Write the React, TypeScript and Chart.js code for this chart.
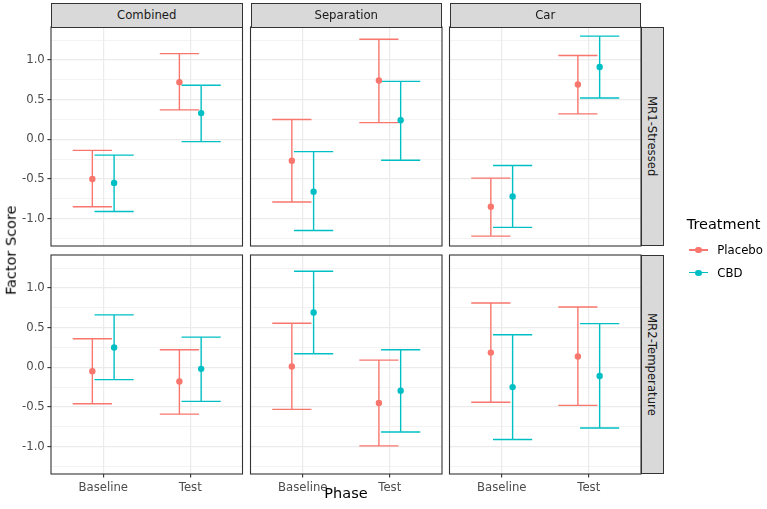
import React, { useEffect, useRef } from 'react';
import { Chart, registerables } from 'chart.js';

Chart.register(...registerables);

const phases = ['Baseline', 'Test'];
const studies = ['Combined', 'Separation', 'Car'];
const factors = ['MR1-Stressed', 'MR2-Temperature'];
const treatments = ['Placebo', 'CBD'];
const treatmentColors = ['#F8766D', '#00BFC4'];

// each row is a study (Combined, Separation, Car), each column a phase (Baseline, Test)
const mr1PlaceboMean = [[-0.5, 0.72], [-0.27, 0.74], [-0.85, 0.69]];
const mr1PlaceboLow = [[-0.85, 0.37], [-0.79, 0.21], [-1.22, 0.32]];
const mr1PlaceboHigh = [[-0.14, 1.08], [0.25, 1.26], [-0.49, 1.055]];
const mr1CbdMean = [[-0.55, 0.33], [-0.66, 0.24], [-0.72, 0.91]];
const mr1CbdLow = [[-0.91, -0.03], [-1.15, -0.265], [-1.11, 0.52]];
const mr1CbdHigh = [[-0.2, 0.68], [-0.155, 0.73], [-0.33, 1.3]];

const mr2PlaceboMean = [[-0.05, -0.18], [0.01, -0.45], [0.185, 0.135]];
const mr2PlaceboLow = [[-0.46, -0.59], [-0.53, -0.99], [-0.44, -0.48]];
const mr2PlaceboHigh = [[0.36, 0.22], [0.555, 0.09], [0.81, 0.76]];
const mr2CbdMean = [[0.25, -0.02], [0.69, -0.295], [-0.25, -0.11]];
const mr2CbdLow = [[-0.155, -0.43], [0.17, -0.815], [-0.91, -0.765]];
const mr2CbdHigh = [[0.66, 0.38], [1.21, 0.22], [0.41, 0.55]];

const yMajorTicks = [-1, -0.5, 0, 0.5, 1];
const yMinorTicks = [-1.25, -0.75, -0.25, 0.25, 0.75, 1.25];

const stats = [
  [
    [mr1PlaceboMean, mr1PlaceboLow, mr1PlaceboHigh],
    [mr1CbdMean, mr1CbdLow, mr1CbdHigh],
  ],
  [
    [mr2PlaceboMean, mr2PlaceboLow, mr2PlaceboHigh],
    [mr2CbdMean, mr2CbdLow, mr2CbdHigh],
  ],
];

const W = 767;
const H = 509;
const colLeft = [51, 250.5, 449.5];
const panelW = 191.5;
const rowTop = [27, 255];
const panelH = 219;
const dodge = [-0.125, 0.125];
const capHalf = 0.225;
const FONT = '"DejaVu Sans", sans-serif';

const panelBorder = {
  id: 'panelBorder',
  afterDatasetsDraw(chart: any) {
    const { left, top, right, bottom } = chart.chartArea;
    const ctx = chart.ctx;
    ctx.save();
    ctx.strokeStyle = '#333333';
    ctx.lineWidth = 1.1;
    ctx.strokeRect(left, top, right - left, bottom - top);
    ctx.restore();
  },
};

const Panel: React.FC<{ r: number; c: number }> = ({ r, c }) => {
  const ref = useRef<HTMLCanvasElement>(null);

  useEffect(() => {
    if (!ref.current) return;
    const L = colLeft[c];
    const T = rowTop[r];
    const R = L + panelW;
    const B = T + panelH;
    const showY = c === 0;
    const showX = r === 1;

    const datasets: any[] = [];
    treatments.forEach((name, t) => {
      const [mean, low, high] = stats[r][t];
      const bars: any[] = [];
      phases.forEach((_, i) => {
        const xc = i + 1 + dodge[t];
        const lo = low[c][i];
        const hi = high[c][i];
        bars.push(
          { x: xc - capHalf, y: hi }, { x: xc + capHalf, y: hi }, { x: xc, y: null },
          { x: xc, y: hi }, { x: xc, y: lo }, { x: xc, y: null },
          { x: xc - capHalf, y: lo }, { x: xc + capHalf, y: lo }, { x: xc, y: null },
        );
      });
      datasets.push({
        label: name + ' interval',
        data: bars,
        borderColor: treatmentColors[t],
        borderWidth: 1.4,
        pointRadius: 0,
        showLine: true,
        spanGaps: false,
        order: 3 - t,
      });
      datasets.push({
        label: name,
        data: phases.map((_, i) => ({ x: i + 1 + dodge[t], y: mean[c][i] })),
        showLine: false,
        pointRadius: 3.2,
        pointBackgroundColor: treatmentColors[t],
        pointBorderWidth: 0,
        order: 1 - t,
      });
    });

    const isMajor = (v: number) => yMajorTicks.some((m) => Math.abs(m - v) < 1e-6);

    const chart = new Chart(ref.current, {
      type: 'line',
      data: { datasets },
      plugins: [panelBorder],
      options: {
        animation: false,
        responsive: false,
        maintainAspectRatio: false,
        events: [],
        layout: {
          autoPadding: false,
          padding: {
            left: showY ? 0 : L,
            top: T,
            right: W - R,
            bottom: showX ? 0 : H - B,
          },
        },
        plugins: { legend: { display: false }, tooltip: { enabled: false } },
        scales: {
          x: {
            type: 'linear',
            min: 0.4,
            max: 2.6,
            afterBuildTicks: (s: any) => {
              s.ticks = phases.map((_, i) => ({ value: i + 1 }));
            },
            afterFit: (s: any) => {
              s.height = showX ? H - B : 0;
            },
            border: { display: false },
            grid: {
              color: '#EBEBEB',
              lineWidth: 1.2,
              drawTicks: showX,
              tickLength: 3.6,
              tickColor: '#333333',
              tickWidth: 1.1,
            },
            ticks: {
              display: showX,
              autoSkip: false,
              maxRotation: 0,
              padding: 3,
              color: '#4D4D4D',
              font: { family: FONT, size: 11.7 },
              callback: (v: any) => phases[Math.round(Number(v)) - 1],
            },
          },
          y: {
            type: 'linear',
            min: -1.345,
            max: 1.415,
            afterBuildTicks: (s: any) => {
              s.ticks = [...yMinorTicks, ...yMajorTicks]
                .sort((a, b) => a - b)
                .map((v) => ({ value: v }));
            },
            afterFit: (s: any) => {
              s.width = showY ? L : 0;
            },
            border: { display: false },
            grid: {
              color: '#EBEBEB',
              lineWidth: (ctx: any) => (isMajor(ctx.tick?.value) ? 1.2 : 0.6),
              drawTicks: showY,
              tickLength: 3.6,
              tickColor: (ctx: any) => (isMajor(ctx.tick?.value) ? '#333333' : 'rgba(0,0,0,0)'),
              tickWidth: 1.1,
            },
            ticks: {
              display: showY,
              autoSkip: false,
              padding: 2.6,
              color: '#4D4D4D',
              font: { family: FONT, size: 11.7 },
              callback: (v: any) => (isMajor(Number(v)) ? Number(v).toFixed(1) : ''),
            },
          },
        },
      },
    } as any);

    return () => {
      chart.destroy();
    };
  }, [r, c]);

  return (
    <canvas
      ref={ref}
      width={W}
      height={H}
      style={{ position: 'absolute', left: 0, top: 0, width: W, height: H }}
    />
  );
};

const textBase: React.CSSProperties = {
  position: 'absolute',
  fontFamily: FONT,
  whiteSpace: 'nowrap',
};

const App: React.FC = () => {
  return (
    <div
      style={{
        position: 'fixed',
        left: 0,
        top: 0,
        width: W,
        height: H,
        background: '#ffffff',
        overflow: 'hidden',
      }}
    >
      {factors.map((_, r) =>
        studies.map((__, c) => <Panel key={`${r}-${c}`} r={r} c={c} />),
      )}

      {studies.map((s, c) => (
        <div
          key={s}
          style={{
            ...textBase,
            left: colLeft[c],
            top: 3.3,
            width: panelW,
            height: 24.3,
            boxSizing: 'border-box',
            background: '#D9D9D9',
            border: '1.1px solid #333333',
            color: '#1A1A1A',
            fontSize: 11.7,
            display: 'flex',
            alignItems: 'center',
            justifyContent: 'center',
          }}
        >
          {s}
        </div>
      ))}

      {factors.map((f, r) => (
        <div
          key={f}
          style={{
            ...textBase,
            left: colLeft[2] + panelW - 0.5,
            top: rowTop[r],
            width: 23,
            height: panelH,
            boxSizing: 'border-box',
            background: '#D9D9D9',
            border: '1.1px solid #333333',
            color: '#1A1A1A',
            fontSize: 11.7,
            display: 'flex',
            alignItems: 'center',
            justifyContent: 'center',
            writingMode: 'vertical-rl',
          }}
        >
          {f}
        </div>
      ))}

      <div
        style={{
          ...textBase,
          left: 10.5 - 60,
          top: 250.5 - 7.25,
          width: 120,
          height: 14.5,
          lineHeight: '14.5px',
          fontSize: 14.5,
          color: '#000000',
          textAlign: 'center',
          transform: 'rotate(-90deg)',
        }}
      >
        Factor Score
      </div>

      <div
        style={{
          ...textBase,
          left: 346 - 60,
          top: 485.7,
          width: 120,
          lineHeight: '14.5px',
          fontSize: 14.5,
          color: '#000000',
          textAlign: 'center',
        }}
      >
        Phase
      </div>

      <div
        style={{
          ...textBase,
          left: 686.7,
          top: 217,
          lineHeight: '14.5px',
          fontSize: 14.5,
          color: '#000000',
        }}
      >
        Treatment
      </div>

      {treatments.map((t, i) => {
        const cy = 250 + i * 22.7;
        return (
          <React.Fragment key={t}>
            <div
              style={{
                position: 'absolute',
                left: 689,
                top: cy - 0.7,
                width: 19,
                height: 1.4,
                background: treatmentColors[i],
              }}
            />
            <div
              style={{
                position: 'absolute',
                left: 698.5 - 3.2,
                top: cy - 3.2,
                width: 6.4,
                height: 6.4,
                borderRadius: '50%',
                background: treatmentColors[i],
              }}
            />
            <div
              style={{
                ...textBase,
                left: 717.3,
                top: cy - 7,
                lineHeight: '14px',
                fontSize: 11.7,
                color: '#000000',
              }}
            >
              {t}
            </div>
          </React.Fragment>
        );
      })}
    </div>
  );
};

export default App;
